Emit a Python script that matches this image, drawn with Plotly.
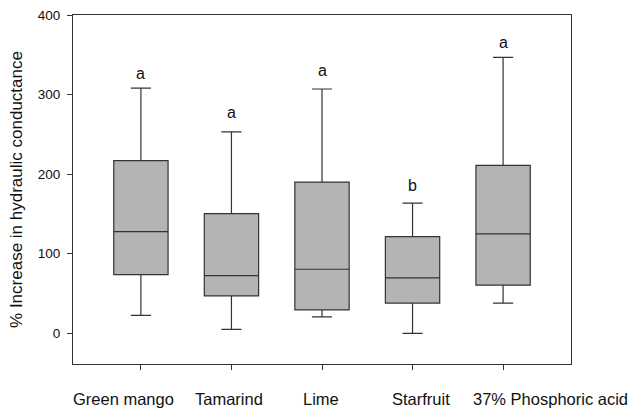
import plotly.graph_objects as go

categories = ["Green mango", "Tamarind", "Lime", "Starfruit", "37% Phosphoric acid"]
lower_whisker = [22.6, 5.0, 20.5, 0.0, 38.0]
q1_values = [73.7, 47.0, 29.3, 38.0, 60.4]
median_values = [127.8, 72.5, 80.5, 69.6, 125.0]
q3_values = [217.0, 150.4, 190.0, 121.5, 211.0]
upper_whisker = [308.0, 253.0, 307.0, 163.5, 346.7]
group_letters = ["a", "a", "a", "b", "a"]
letter_baseline = [319.5, 270.4, 322.8, 179.4, 358.5]
# horizontal nudges (px) of the category labels, as in the original figure
label_nudge = [-17.7, -2.7, -1.5, 8.7, 47.0]

font_family = "Liberation Sans, Arial, sans-serif"
line_col = "#333333"
text_col = "#111111"

fig = go.Figure()
fig.add_trace(go.Box(
    x=categories,
    q1=q1_values,
    median=median_values,
    q3=q3_values,
    lowerfence=lower_whisker,
    upperfence=upper_whisker,
    fillcolor="#b4b4b4",
    line=dict(color=line_col, width=1.2),
    width=0.6,
    whiskerwidth=0.37,
    boxpoints=False,
    hoverinfo="skip",
    showlegend=False,
))

for cat, letter, yb in zip(categories, group_letters, letter_baseline):
    fig.add_annotation(
        x=cat, y=yb, text=letter, showarrow=False,
        xref="x", yref="y", yanchor="bottom", yshift=-5,
        font=dict(family=font_family, size=16, color=text_col),
    )

for cat, dx in zip(categories, label_nudge):
    fig.add_annotation(
        x=cat, y=0, text=cat, showarrow=False,
        xref="x", yref="paper", xanchor="center", yanchor="top",
        xshift=dx, yshift=-24,
        font=dict(family=font_family, size=16.5, color=text_col),
    )

fig.update_layout(
    width=631, height=410,
    margin=dict(l=73, r=60, t=15, b=46, autoexpand=False),
    paper_bgcolor="white", plot_bgcolor="white",
    font=dict(family=font_family, color=text_col),
)
fig.update_xaxes(
    range=[-0.75, 4.75], showticklabels=False,
    showline=True, linecolor=line_col, linewidth=1.2, mirror=True,
    ticks="outside", ticklen=5, tickcolor=line_col, tickwidth=1.2,
    showgrid=False, zeroline=False,
)
fig.update_yaxes(
    range=[-38.6, 400],
    tickvals=[0, 100, 200, 300, 400],
    showline=True, linecolor=line_col, linewidth=1.2, mirror=True,
    ticks="outside", ticklen=5, tickcolor=line_col, tickwidth=1.2,
    tickfont=dict(size=13.5, family=font_family, color=text_col),
    ticklabeloverflow="allow",
    showgrid=False, zeroline=False, ticklabelstandoff=4,
    title=dict(text="% Increase in hydraulic conductance", standoff=10,
               font=dict(size=17, family=font_family, color=text_col)),
)

fig.write_html(
    "out.html",
    config={"displayModeBar": False},
    post_script="document.body.style.margin='0';document.body.style.overflow='hidden';",
)
